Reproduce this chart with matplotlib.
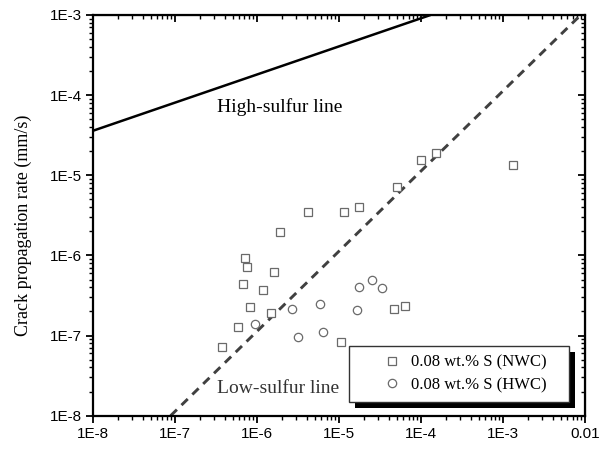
import matplotlib
matplotlib.use("Agg")
import matplotlib.pyplot as plt
from matplotlib.patches import Rectangle

# data (log-log)
nwc_x = [3.75e-7, 5.9e-7, 6.8e-7, 7.1e-7, 7.5e-7, 8.1e-7, 1.17e-6, 1.6e-6, 1.47e-6, 1.9e-6,
         4.2e-6, 1.16e-5, 1.75e-5, 1.05e-5, 5.0e-5, 9.9e-5, 1.52e-4, 1.33e-3, 4.7e-5, 6.4e-5]
nwc_y = [7.2e-8, 1.28e-7, 4.35e-7, 9.2e-7, 7.1e-7, 2.26e-7, 3.7e-7, 6.2e-7, 1.89e-7, 1.97e-6,
         3.5e-6, 3.5e-6, 4.05e-6, 8.3e-8, 7.2e-6, 1.55e-5, 1.91e-5, 1.34e-5, 2.14e-7, 2.33e-7]

hwc_x = [9.3e-7, 2.68e-6, 3.12e-6, 5.9e-6, 6.3e-6, 1.64e-5, 1.76e-5, 2.52e-5, 3.37e-5]
hwc_y = [1.41e-7, 2.12e-7, 9.6e-8, 2.47e-7, 1.12e-7, 2.07e-7, 4.07e-7, 4.89e-7, 3.94e-7]

high_sulfur_x = [1e-8, 1.3e-4]
high_sulfur_y = [3.6e-5, 1e-3]
low_sulfur_x = [8.8e-8, 8.8e-3]
low_sulfur_y = [1e-8, 1e-3]

x_ticks = [1e-8, 1e-7, 1e-6, 1e-5, 1e-4, 1e-3, 1e-2]
x_ticklabels = ["1E-8", "1E-7", "1E-6", "1E-5", "1E-4", "1E-3", "0.01"]
y_ticks = [1e-8, 1e-7, 1e-6, 1e-5, 1e-4, 1e-3]
y_ticklabels = ["1E-8", "1E-7", "1E-6", "1E-5", "1E-4", "1E-3"]

serif = "Liberation Serif"
sans = "Liberation Sans"

fig = plt.figure(figsize=(6.09, 4.5), dpi=100)
ax = fig.add_axes([0.153, 0.0762, 0.808, 0.8905])
ax.set_xscale("log")
ax.set_yscale("log")
ax.set_xlim(1e-8, 1e-2)
ax.set_ylim(1e-8, 1e-3)

ax.plot(high_sulfur_x, high_sulfur_y, color="black", linewidth=1.8, solid_capstyle="butt")
ax.plot(low_sulfur_x, low_sulfur_y, color="#404040", linewidth=2.1, dashes=(3, 2.2))

ax.plot(nwc_x, nwc_y, linestyle="none", marker="s", markersize=5.2, markerfacecolor="white",
        markeredgecolor="#6a6a6a", markeredgewidth=0.9, label="0.08 wt.% S (NWC)")
ax.plot(hwc_x, hwc_y, linestyle="none", marker="o", markersize=6, markerfacecolor="white",
        markeredgecolor="#6a6a6a", markeredgewidth=0.9, label="0.08 wt.% S (HWC)")

ax.text(3.2e-7, 7.1e-5, "High-sulfur line", fontsize=14, family=serif, va="center")
ax.text(3.2e-7, 2.2e-8, "Low-sulfur line", fontsize=14, family=serif, va="center", color="#333333")

ax.set_ylabel("Crack propagation rate (mm/s)", fontsize=13, family=serif)
ax.yaxis.set_label_coords(-0.125, 0.476)

ax.set_xticks(x_ticks)
ax.set_xticklabels(x_ticklabels, family=sans, fontsize=11)
ax.set_yticks(y_ticks)
ax.set_yticklabels(y_ticklabels, family=sans, fontsize=11)
ax.tick_params(which="major", direction="out", length=5, width=1.3, pad=3)
ax.tick_params(which="minor", direction="out", length=3, width=1.0, labelleft=False, labelbottom=False)
for s in ax.spines.values():
    s.set_linewidth(1.6)

# mirrored axes on top and right with inward ticks
top = ax.secondary_xaxis("top")
top.tick_params(which="major", direction="in", length=5, width=1.3, labeltop=False)
top.tick_params(which="minor", direction="in", length=3, width=1.0, labeltop=False)
top.set_xticks(x_ticks)
top.set_xticklabels([])
right = ax.secondary_yaxis("right")
right.tick_params(which="major", direction="in", length=5, width=1.3, labelright=False)
right.tick_params(which="minor", direction="in", length=3, width=1.0, labelright=False)
right.set_yticks(y_ticks)
right.set_yticklabels([])

leg = ax.legend(loc="lower right", bbox_to_anchor=(0.9221, 0.0559), prop={"family": serif, "size": 12},
                frameon=False, borderpad=0, borderaxespad=0,
                handletextpad=0.4, labelspacing=0.4, handlelength=1.5)
leg.set_zorder(7)

# legend frame with wide left margin and a hard black drop shadow, built around the legend entries
fig.canvas.draw()
bb = leg.get_window_extent()
pad_l, pad_r, pad_t, pad_b = 31, 22, 9, 9
inv = ax.transAxes.inverted()
(fx0, fy0) = inv.transform((bb.x0 - pad_l, bb.y0 - pad_b))
(fx1, fy1) = inv.transform((bb.x1 + pad_r, bb.y1 + pad_t))
dx = 6 / (0.808 * 609)
dy = 6 / (0.8905 * 450)
ax.add_patch(Rectangle((fx0 + dx, fy0 - dy), fx1 - fx0, fy1 - fy0, transform=ax.transAxes,
                       facecolor="black", edgecolor="none", zorder=5, clip_on=False))
ax.add_patch(Rectangle((fx0, fy0), fx1 - fx0, fy1 - fy0, transform=ax.transAxes,
                       facecolor="white", edgecolor="#333333", linewidth=1.0, zorder=6, clip_on=False))

fig.savefig("out.png", dpi=100)
